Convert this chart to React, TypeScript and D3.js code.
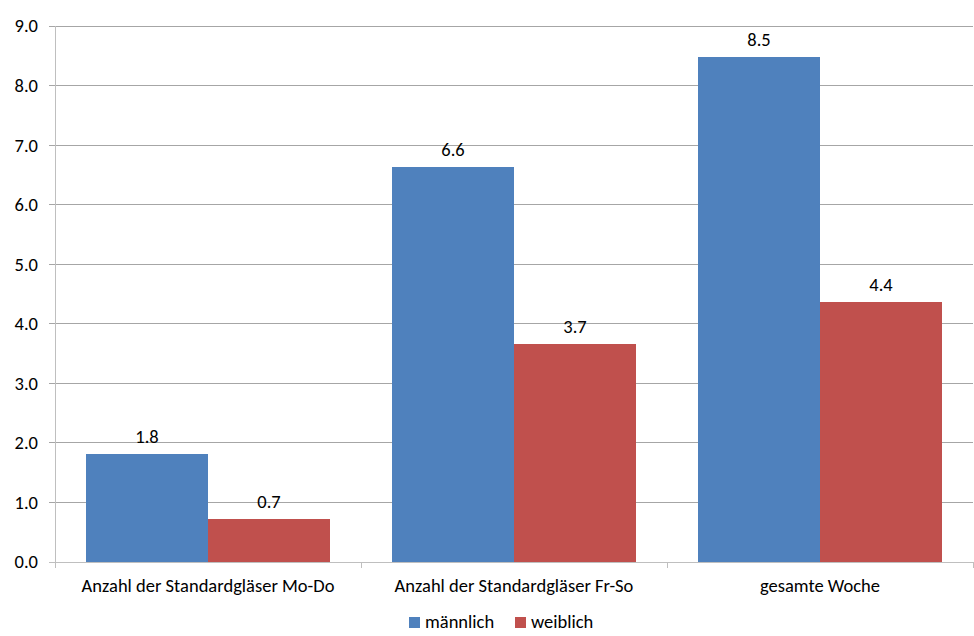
import React from "react";
import * as d3 from "d3";

const categories = ["Anzahl der Standardgläser Mo-Do", "Anzahl der Standardgläser Fr-So", "gesamte Woche"];
const series = ["männlich", "weiblich"];
const maleValues = [1.82, 6.64, 8.48];
const femaleValues = [0.72, 3.66, 4.37];
const yTicks = [0, 1, 2, 3, 4, 5, 6, 7, 8, 9];
const colors = ["#4f81bd", "#c0504d"];

const W = 974, H = 636;
const left = 55, right = 973, top = 26, bottom = 562;
const font = "Carlito, Calibri, 'Open Sans', sans-serif";
const fs = 18.5;

export default function App() {
  const y = d3.scaleLinear().domain([0, 9]).range([bottom, top]);
  const x0 = d3.scaleBand().domain(categories).range([left, right]).padding(0);
  const bw = x0.bandwidth();
  const x1 = d3.scaleBand().domain(series).range([bw * 0.1013, bw * (1 - 0.1013)]).padding(0);
  const fmt = d3.format(".1f");
  const vals = [maleValues, femaleValues];

  return (
    <svg width={W} height={H} style={{ position: "absolute", left: 0, top: 0 }} fontFamily={font}>
      <rect width={W} height={H} fill="#fff" />
      {yTicks.map((t) => (
        <g key={t}>
          <line x1={left - 6} x2={right} y1={y(t)} y2={y(t)} stroke={t === 0 ? "#bfbfbf" : "#a6a6a6"} strokeWidth={1} shapeRendering="crispEdges" />
          <text x={left - 17} y={y(t)} dy="0.35em" textAnchor="end" fontSize={fs} fill="#000">{fmt(t)}</text>
        </g>
      ))}
      <line x1={left} x2={left} y1={top} y2={bottom} stroke="#bfbfbf" shapeRendering="crispEdges" />
      {[...categories.map((c) => x0(c)!), right].map((xx, i) => (
        <line key={i} x1={xx} x2={xx} y1={bottom} y2={bottom + 6} stroke="#bfbfbf" shapeRendering="crispEdges" />
      ))}
      {categories.map((c, ci) => (
        <g key={c}>
          {series.map((s, si) => {
            const v = vals[si][ci];
            const bx = x0(c)! + x1(s)!;
            return (
              <g key={s}>
                <rect x={bx} y={y(v)} width={x1.bandwidth()} height={bottom - y(v)} fill={colors[si]} shapeRendering="crispEdges" />
                <text x={bx + x1.bandwidth() / 2} y={y(v) - 11} textAnchor="middle" fontSize={fs} fill="#000">{fmt(v)}</text>
              </g>
            );
          })}
          <text x={x0(c)! + bw / 2} y={bottom + 30} textAnchor="middle" fontSize={fs} fill="#000">{c}</text>
        </g>
      ))}
      <g>
        {series.map((s, si) => {
          const lx = si === 0 ? 409 : 515;
          return (
            <g key={s}>
              <rect x={lx} y={617} width={11} height={11} fill={colors[si]} />
              <text x={lx + 16} y={628} fontSize={fs} fill="#000">{s}</text>
            </g>
          );
        })}
      </g>
    </svg>
  );
}
